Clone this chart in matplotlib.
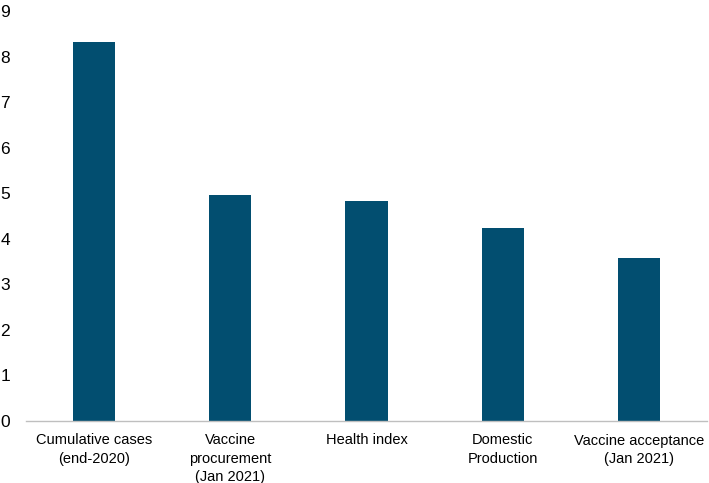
import matplotlib
matplotlib.use("Agg")
import matplotlib.pyplot as plt

categories = ["Cumulative cases\n(end-2020)", "Vaccine\nprocurement\n(Jan 2021)", "Health index",
              "Domestic\nProduction", "Vaccine acceptance\n(Jan 2021)"]
values = [8.31, 4.97, 4.84, 4.23, 3.57]
yticks = [0, 1, 2, 3, 4, 5, 6, 7, 8, 9]

plt.rcParams['font.family'] = ['Liberation Sans', 'DejaVu Sans']

fig = plt.figure(figsize=(7.09, 4.83), dpi=100)
ax = fig.add_axes([26/709, 1 - 421/483, (707 - 26)/709, (421 - 11)/483])
x = list(range(len(categories)))
ax.bar(x, values, width=0.31, color='#024e70', zorder=2)
ax.set_xlim(-0.5, len(categories) - 0.5)
ax.set_ylim(0, 9)
ax.set_yticks(yticks)
ax.set_yticklabels([str(t) for t in yticks], fontsize=12.5)
ax.set_xticks(x)
ax.set_xticklabels(categories, fontsize=10.5, linespacing=1.4, va='top')
for s in ['top', 'right', 'left']:
    ax.spines[s].set_visible(False)
ax.spines['bottom'].set_color('#bfbfbf')
ax.spines['bottom'].set_linewidth(1.0)
ax.tick_params(axis='both', length=0, colors='black')
ax.tick_params(axis='y', pad=11.5)
ax.tick_params(axis='x', pad=9)
fig.savefig("out.png", dpi=100)
